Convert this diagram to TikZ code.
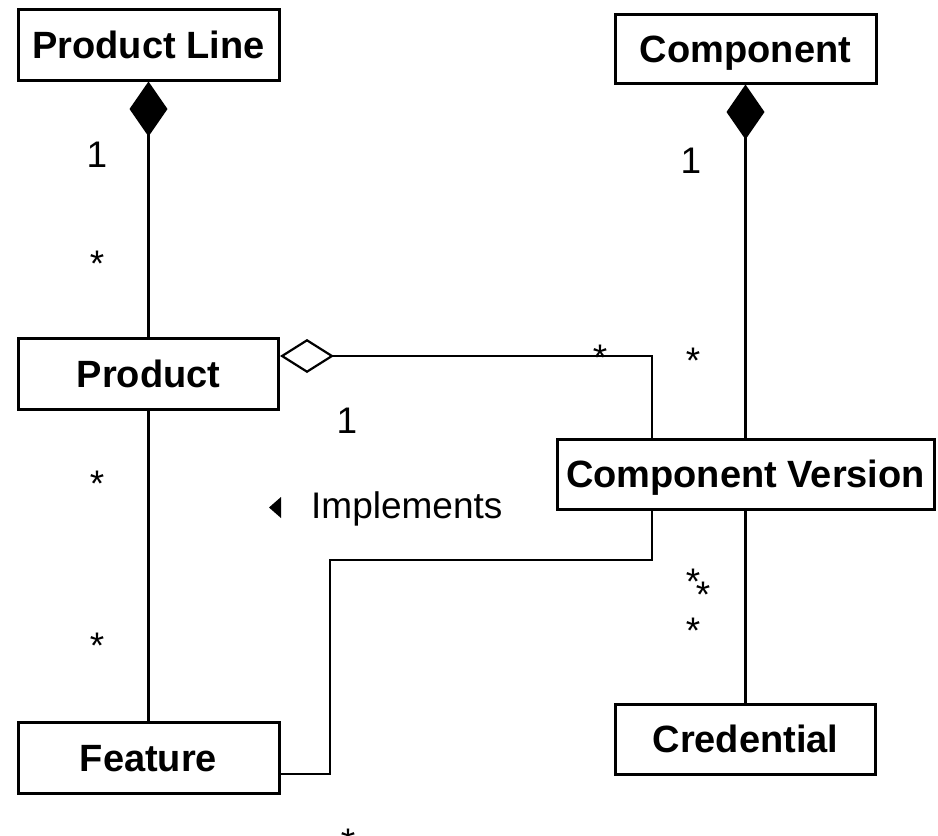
\documentclass[tikz,border=0pt]{standalone}
\usepackage{fontspec}
\setmainfont{Liberation Sans}
\usetikzlibrary{arrows.meta}
\begin{document}
\begin{tikzpicture}[x=1pt,y=-1pt,
  cls/.style={draw, line width=3pt, inner sep=0pt, text height=27pt, text depth=0pt,
    font=\fontsize{38}{45}\selectfont\bfseries},
  conn/.style={line width=2.2pt},
  lbl/.style={inner sep=0pt, anchor=base, font=\fontsize{37}{44}\selectfont},
  comp/.style={{Diamond[length=55pt,width=38pt,line width=0pt]}-},
  aggr/.style={{Diamond[open,length=54pt,width=34pt,line width=2.2pt]}-}]
\useasboundingbox (0,0) rectangle (938,836);
\fill[white] (0,0) rectangle (938,836);
% classes
\node[cls, minimum width=261pt, minimum height=71pt] (pl) at (148.5,44.5) {Product Line};
\node[cls, minimum width=261pt, minimum height=69pt] (c) at (745.5,48.5) {Component};
\node[cls, minimum width=260pt, minimum height=71pt] (p) at (148.5,373.5) {Product};
\node[cls, minimum width=377pt, minimum height=70pt] (cv) at (745.5,474) {Component Version};
\node[cls, minimum width=261pt, minimum height=71pt] (f) at (148.5,757.5) {Feature};
\node[cls, minimum width=260pt, minimum height=70pt] (cr) at (745.5,739) {Credential};
% junction coordinates
\coordinate (j1) at (652,356);
\coordinate (k1) at (330,774);
\coordinate (j2) at (330,560);
\coordinate (j3) at (652,560);
% connectors
\draw[conn, comp] (pl.south) -- (p.north);
\draw[conn, comp] (c.south) -- (cv.north);
\draw[conn] (p.south) -- (f.north);
\draw[conn, aggr] (p.east |- j1) -- (j1) -- (j1 |- cv.north);
\draw[conn] (f.east |- k1) -- (k1) -- (j2) -- (j3) -- (j3 |- cv.south);
\draw[conn] (cv.south) -- (cr.north);
% multiplicities
\node[lbl] (m1) at (97,167) {1};
\node[lbl] (m2) at (97,276) {*};
\node[lbl] (m3) at (691,173) {1};
\node[lbl] (m4) at (600,370) {*};
\node[lbl] (m5) at (693,373) {*};
\node[lbl] (m6) at (347,433) {1};
\node[lbl] (m7) at (97,496) {*};
\node[lbl] (m8) at (97,658) {*};
\node[lbl] (m9) at (693,594) {*};
\node[lbl] (m10) at (703,607) {*};
\node[lbl] (m11) at (693,643) {*};
\node[lbl] (m12) at (348,854) {*};
% association name
\fill (269,507.5) -- (281,497) -- (281,518) -- cycle;
\node[lbl, anchor=base west] (impl) at (311,518) {Implements};
\end{tikzpicture}
\end{document}
